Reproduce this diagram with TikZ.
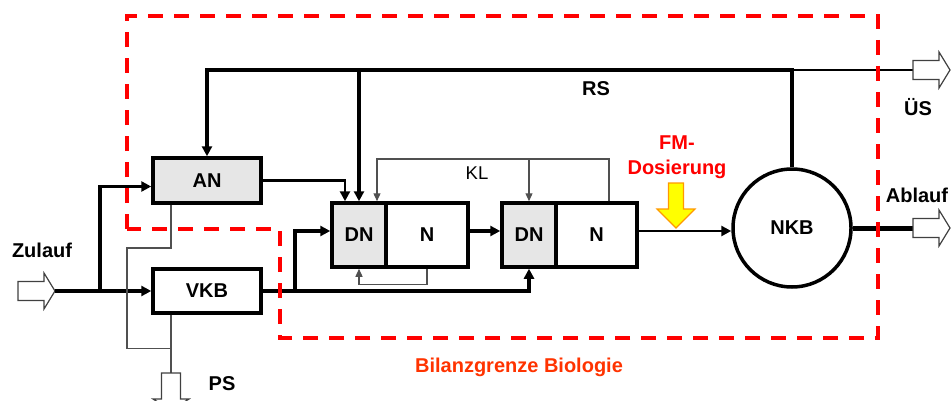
\documentclass[tikz,border=0pt]{standalone}
\usepackage{fontspec}
\setmainfont{Liberation Sans}
\usetikzlibrary{arrows.meta,calc}
\definecolor{boxgray}{HTML}{E6E6E6}
\definecolor{dashred}{HTML}{FF0000}
\definecolor{bilanz}{HTML}{FF3300}
\definecolor{thingray}{HTML}{505050}
\definecolor{fmyellow}{HTML}{FFFF00}
\definecolor{fmorange}{HTML}{FF9900}
\tikzset{
  pics/hollowarr/.style={code={
    \draw[line width=1.2pt, draw=black!75, fill=white]
      (0,-9.5) -- (26,-9.5) -- (26,-18) -- (37,0) -- (26,18) -- (26,9.5) -- (0,9.5) -- cycle;}},
  pics/yellowarr/.style={code={
    \draw[line width=1.2pt, draw=fmorange, fill=fmyellow]
      (0,-7.5) -- (26,-7.5) -- (26,-19) -- (45,0) -- (26,19) -- (26,7.5) -- (0,7.5) -- cycle;}}
}
\begin{document}
\begin{tikzpicture}[x=1pt,y=-1pt,
  lbl/.style={font=\bfseries\fontsize{20}{25}\selectfont, inner sep=0},
  unit/.style={draw, line width=3.5pt, inner sep=0, font=\bfseries\fontsize{20}{22}\selectfont},
  bigtip/.style={-{Triangle[length=10pt,width=10pt]}},
  smalltip/.style={-{Triangle[length=8pt,width=7pt]}},
  thk/.style={line width=3.5pt},
  vthk/.style={line width=4.5pt},
  med/.style={line width=2.5pt},
  thn/.style={line width=1.3pt, draw=thingray},
  gr/.style={line width=1.3pt, draw=thingray}
]
\useasboundingbox (0,0) rectangle (952,401);

% units
\node[unit, fill=boxgray, minimum width=108pt, minimum height=45pt] (AN) at (207,180.5) {AN};
\node[unit, fill=white, minimum width=108pt, minimum height=44pt] (VKB) at (207,291) {VKB};
\node[unit, fill=boxgray, minimum width=54pt, minimum height=64pt] (DN1) at (359,235) {DN};
\node[unit, fill=white, minimum width=82pt, minimum height=64pt] (N1) at (427,235) {N};
\node[unit, fill=boxgray, minimum width=54pt, minimum height=64pt] (DN2) at (529,235) {DN};
\node[unit, fill=white, minimum width=81pt, minimum height=64pt] (N2) at (596.5,235) {N};
\node[unit, circle, fill=white, minimum size=118pt] (NKB) at (792,228) {NKB};

% coordinates
\coordinate (zt) at (55,291);
\coordinate (split) at (100,291);
\coordinate (rs) at (207,70);
\coordinate (ust) at (913,70);
\coordinate (abt) at (913,228);
\coordinate (kl) at (609,159);
\coordinate (vb) at (295,291);
\coordinate (psl) at (127,248);
\coordinate (pst) at (171,373);
\coordinate (anin) at ($(AN.west)+(0,6)$);
\coordinate (anout) at ($(DN1.north)+(-14,0)$);
\coordinate (klin) at ($(DN1.north)+(18,0)$);
\coordinate (klout) at ($(N2.north)+(12.5,0)$);
\coordinate (n1o) at ($(N1.east)+(0,-4)$);
\coordinate (dn2i) at ($(DN2.west)+(0,-4)$);
\coordinate (dn1i) at ($(DN1.west)+(0,-4)$);
\coordinate (n2o) at ($(N2.east)+(0,-4)$);
\coordinate (anb) at ($(AN.south)+(-36,0)$);
\coordinate (vkbb) at ($(VKB.south)+(-36,0)$);
\coordinate (psb) at ($(VKB.south)+(-36,34)$);

% inflow
\pic at (18,291) {hollowarr};
\draw[thk, bigtip] (zt) -- (VKB.west);
\draw[thk, bigtip] (split) |- (anin);

% return sludge
\draw[thk, bigtip] (NKB.north) |- (rs) -- (AN.north);
\draw[vthk, bigtip] (DN1.north |- rs) -- (DN1.north);
\draw[line width=1.3pt] (NKB.north |- rs) -- (ust);
\pic at (ust) {hollowarr};

% AN to DN1
\draw[med, bigtip] (AN.east) -| (anout);

% KL internal recirculation
\draw[thn, smalltip] (klout) |- (klin |- kl) -- (klin);
\draw[thn, smalltip] (DN2.north |- kl) -- (DN2.north);
\draw[thn, smalltip] (N1.south) -- ++(0,16) -| (DN1.south);

% cascade
\draw[thk, bigtip] (n1o) -- (dn2i);
\draw[thk, bigtip] (VKB.east) -| (DN2.south);
\draw[thk, bigtip] (vb) |- (dn1i);
\draw[med, bigtip] (n2o) -- (n2o -| NKB.west);

% outflow
\draw[line width=5pt] (NKB.east) -- (abt);
\pic at (abt) {hollowarr};

% primary sludge
\draw[gr] (anb) |- (psl) |- (psb);
\draw[gr] (vkbb) -- (pst);
\pic[rotate=-90] at (pst) {hollowarr};

% FM dosing
\pic[rotate=-90] at (676,183) {yellowarr};

% labels
\node[lbl] (zul) at (42,250) {Zulauf};
\node[lbl] (psl2) at (222,384) {PS};
\node[lbl] (rsl) at (596,89) {RS};
\node[font=\fontsize{18.5}{20}\selectfont, inner sep=0] (kll) at (477,173) {KL};
\node[lbl] (usl) at (918,107) {ÜS};
\node[lbl] (abl) at (917,195) {Ablauf};
\node[lbl, text=dashred, align=center] (fm) at (677,157) {FM-\\Dosierung};
\node[lbl, text=bilanz] (bil) at (519,367) {Bilanzgrenze Biologie};

% balance boundary
\draw[dashred, line width=4.5pt, dash pattern=on 15pt off 11pt]
  (127,229) -- (127,16) -- (878,16) -- (878,338) -- (280,338) -- (280,229) -- cycle;
\end{tikzpicture}
\end{document}
